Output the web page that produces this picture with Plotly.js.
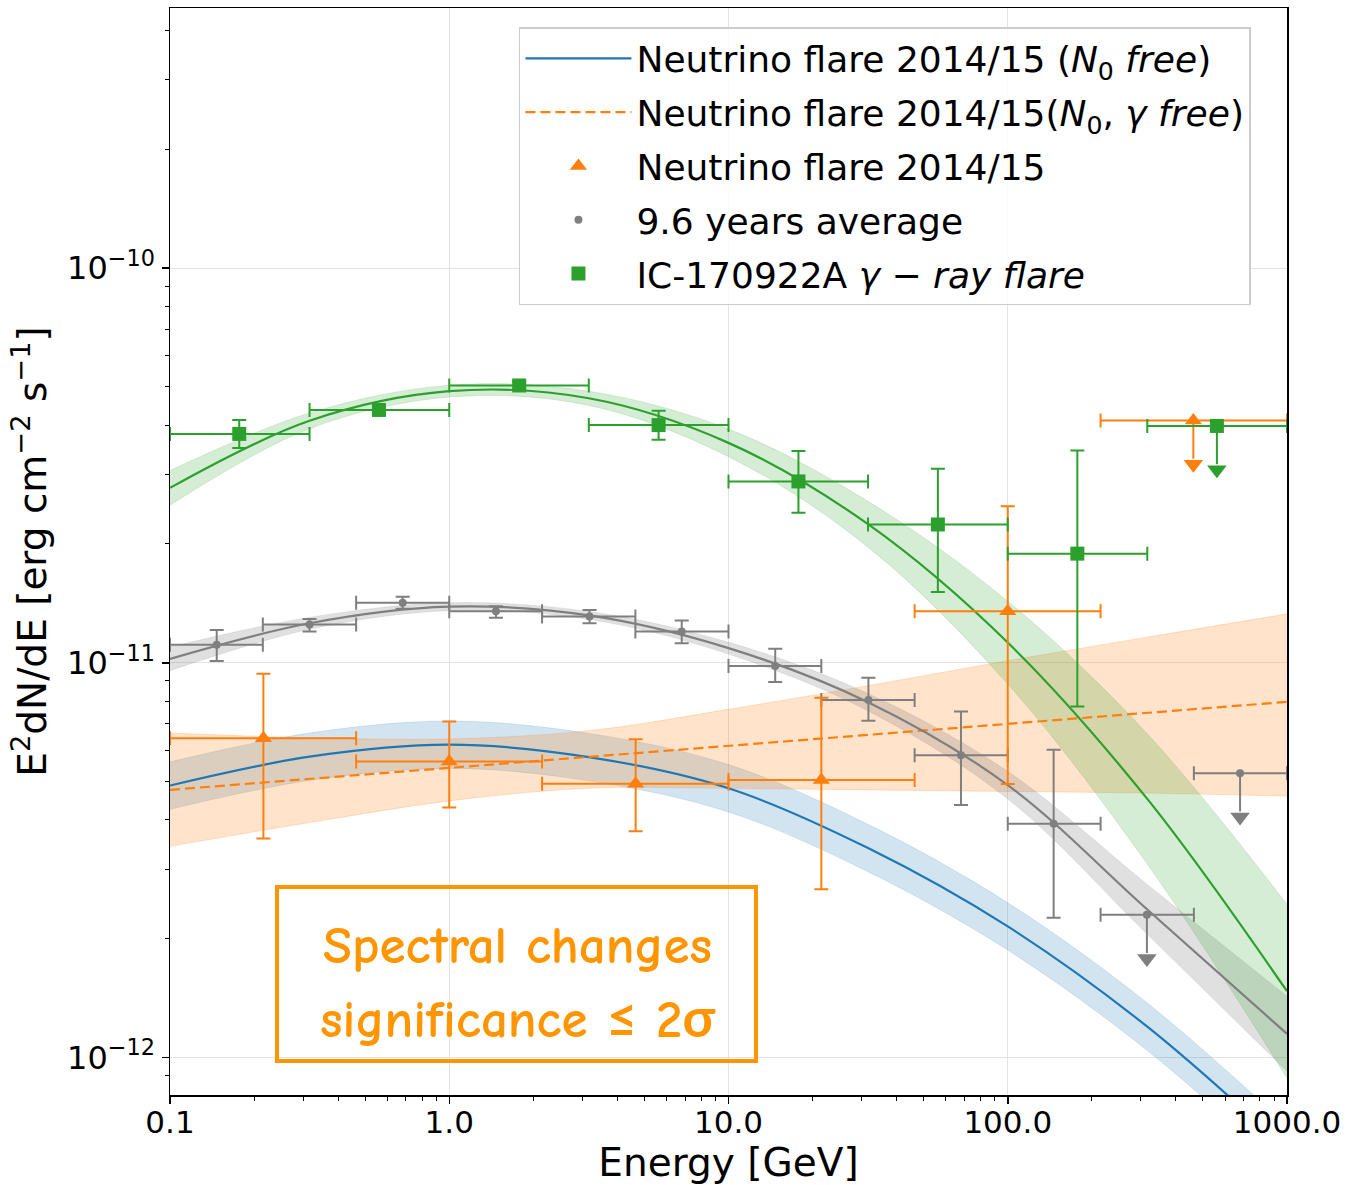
<!DOCTYPE html>
<html><head><meta charset="utf-8">
<script src="https://cdn.plot.ly/plotly-3.0.1.min.js"></script>
<style>body{margin:0;background:#fff}#chart{width:1350px;height:1185px}</style>
</head><body><div id="chart"></div>
<script>
// ---------------- DATA ----------------
// Model curves sampled at these energies (GeV)
const modelEnergy = [0.1, 0.316, 1, 3.16, 10, 31.6, 100, 316, 1000];

// IC-170922A gamma-ray flare, log-parabola fit and band
const greenModel = [2.773e-11, 4.102e-11, 4.875e-11, 4.677e-11, 3.606e-11, 2.244e-11, 1.125e-11, 4.519e-12, 1.472e-12];
const greenUpper = [3.069e-11, 4.295e-11, 5.047e-11, 4.875e-11, 3.908e-11, 2.564e-11, 1.432e-11, 6.607e-12, 2.443e-12];
const greenLower = [2.506e-11, 3.917e-11, 4.710e-11, 4.487e-11, 3.327e-11, 1.963e-11, 8.831e-12, 3.090e-12, 8.872e-13];

// 9.6 years average fit and band
const grayModel = [1.023e-11, 1.259e-11, 1.387e-11, 1.318e-11, 1.089e-11, 7.943e-12, 4.898e-12, 2.371e-12, 1.148e-12];
const grayUpper = [1.096e-11, 1.303e-11, 1.419e-11, 1.349e-11, 1.127e-11, 8.356e-12, 5.309e-12, 2.742e-12, 1.429e-12];
const grayLower = [9.550e-12, 1.216e-11, 1.355e-11, 1.288e-11, 1.052e-11, 7.551e-12, 4.519e-12, 2.051e-12, 9.226e-13];

// Neutrino flare 2014/15 (N0 free) fit and band
const blueModel = [4.887e-12, 5.781e-12, 6.200e-12, 5.768e-12, 4.809e-12, 3.393e-12, 2.148e-12, 1.197e-12, 5.861e-13];
const blueUpper = [5.610e-12, 6.637e-12, 7.118e-12, 6.622e-12, 5.521e-12, 3.896e-12, 2.466e-12, 1.374e-12, 6.730e-13];
const blueLower = [4.256e-12, 5.035e-12, 5.400e-12, 5.023e-12, 4.188e-12, 2.955e-12, 1.871e-12, 1.042e-12, 5.105e-13];

// Neutrino flare 2014/15 (N0, gamma free) power law and band
const orangeFitEnergy = [0.1, 1000];
const orangeFit = [4.764e-12, 7.962e-12];
const orangeUpper = [6.637e-12, 6.457e-12, 6.412e-12, 6.730e-12, 7.621e-12, 8.750e-12, 1.012e-11, 1.161e-11, 1.330e-11];
const orangeLower = [3.428e-12, 3.936e-12, 4.467e-12, 4.808e-12, 4.808e-12, 4.764e-12, 4.721e-12, 4.677e-12, 4.592e-12];

// Neutrino flare 2014/15 data points
const flareE    = [0.216, 1.0, 4.65, 21.5, 100];
const flareElo  = [0.1, 0.464, 2.15, 10, 46.4];
const flareEhi  = [0.464, 2.15, 10, 46.4, 215];
const flareF    = [6.44e-12, 5.62e-12, 4.94e-12, 5.05e-12, 1.35e-11];
const flareFhi  = [9.38e-12, 7.10e-12, 6.40e-12, 8.15e-12, 2.49e-11];
const flareFlo  = [3.59e-12, 4.30e-12, 3.74e-12, 2.67e-12, 4.93e-12];
const flareUlE   = [462];
const flareUlElo = [215];
const flareUlEhi = [1000];
const flareUlF   = [4.11e-11];

// 9.6 years average data points
const avgE    = [0.147, 0.316, 0.681, 1.47, 3.18, 6.8, 14.7, 31.7, 68, 146];
const avgElo  = [0.1, 0.215, 0.464, 1.0, 2.15, 4.64, 10, 21.5, 46.4, 100];
const avgEhi  = [0.215, 0.464, 1.0, 2.15, 4.64, 10, 21.5, 46.4, 100, 215];
const avgF    = [1.11e-11, 1.25e-11, 1.42e-11, 1.35e-11, 1.31e-11, 1.20e-11, 9.81e-12, 8.05e-12, 5.83e-12, 3.91e-12];
const avgFhi  = [1.21e-11, 1.29e-11, 1.47e-11, 1.39e-11, 1.36e-11, 1.28e-11, 1.085e-11, 9.16e-12, 7.53e-12, 6.02e-12];
const avgFlo  = [1.01e-11, 1.20e-11, 1.37e-11, 1.30e-11, 1.26e-11, 1.12e-11, 8.94e-12, 7.13e-12, 4.36e-12, 2.26e-12];
const avgUlE   = [315, 679];
const avgUlElo = [215, 464];
const avgUlEhi = [464, 1000];
const avgUlF   = [2.30e-12, 5.25e-12];

// IC-170922A gamma-ray flare data points
const icE    = [0.177, 0.56, 1.78, 5.62, 17.8, 56.2, 177.5];
const icElo  = [0.1, 0.316, 1.0, 3.16, 10, 31.6, 100];
const icEhi  = [0.316, 1.0, 3.16, 10, 31.6, 100, 316];
const icF    = [3.80e-11, 4.37e-11, 5.04e-11, 4.00e-11, 2.88e-11, 2.24e-11, 1.89e-11];
const icFhi  = [4.12e-11, 4.49e-11, 5.16e-11, 4.35e-11, 3.44e-11, 3.10e-11, 3.45e-11];
const icFlo  = [3.50e-11, 4.25e-11, 4.92e-11, 3.67e-11, 2.40e-11, 1.51e-11, 7.75e-12];
const icUlE   = [561];
const icUlElo = [316];
const icUlEhi = [1000];
const icUlF   = [3.98e-11];

// Labels
const legendNames = [
  'Neutrino flare 2014/15 (<i>N</i><sub>0</sub> <i>free</i>)',
  'Neutrino flare 2014/15(<i>N</i><sub>0</sub>, <i>γ free</i>)',
  'Neutrino flare 2014/15',
  '9.6 years average',
  'IC-170922A <i>γ</i> − <i>ray flare</i>'
];
const xTickVals = [0.1, 1, 10, 100, 1000];
const xTickText = ['0.1', '1.0', '10.0', '100.0', '1000.0'];
const yTickVals = [1e-12, 1e-11, 1e-10];
const yTickText = ['10<sup>−12</sup>', '10<sup>−11</sup>', '10<sup>−10</sup>'];
const boxLines = ['Spectral changes', 'significance ≤ 2σ'];

// ---------------- STYLE ----------------
const C = {blue:'#1f77b4', orange:'#ff7f0e', green:'#2ca02c', gray:'#7f7f7f', note:'#ff9500'};
const ulHeadFactor = 0.775; // arrow head position relative to value (pixel-based offset on log axis)
const ulTipFactor = 0.80;

function sub(a, b){ return a.map((v,i)=>v-b[i]); }

function band(upper, lower, fillColor, edgeColor){
  return [
    {x: modelEnergy, y: lower, mode:'lines', line:{color:edgeColor, width:1, shape:'spline'}, showlegend:false, hoverinfo:'skip'},
    {x: modelEnergy, y: upper, mode:'lines', line:{color:edgeColor, width:1, shape:'spline'}, fill:'tonexty', fillcolor:fillColor, showlegend:false, hoverinfo:'skip'}
  ];
}

function points(E, Elo, Ehi, F, Flo, Fhi, color, symbol, size, name, group){
  return {x:E, y:F, mode:'markers', name:name, legendgroup:group,
    marker:{color:color, symbol:symbol, size:size},
    error_x:{type:'data', symmetric:false, array:sub(Ehi,E), arrayminus:sub(E,Elo), color:color, thickness:2, width:7},
    error_y:{type:'data', symmetric:false, array:sub(Fhi,F), arrayminus:sub(F,Flo), color:color, thickness:2, width:7}
  };
}

function ulPoints(E, Elo, Ehi, F, color, symbol, size, group){
  const lx = [], ly = [];
  E.forEach((e,i)=>{ lx.push(e, e, null); ly.push(F[i], F[i]*ulTipFactor, null); });
  return [
    {x:lx, y:ly, mode:'lines', line:{color:color, width:2}, showlegend:false, hoverinfo:'skip', legendgroup:group},
    {x:E, y:F.map(v=>v*ulHeadFactor), mode:'markers', marker:{color:color, symbol:'triangle-down', size:17}, showlegend:false, hoverinfo:'skip', legendgroup:group},
    {x:E, y:F, mode:'markers', marker:{color:color, symbol:symbol, size:size}, showlegend:false, legendgroup:group,
      error_x:{type:'data', symmetric:false, array:sub(Ehi,E), arrayminus:sub(E,Elo), color:color, thickness:2, width:7}}
  ];
}

const traces = [];
traces.push(...band(blueUpper, blueLower, 'rgba(31,119,180,0.2)', 'rgba(31,119,180,0.15)'));
traces.push(...band(orangeUpper, orangeLower, 'rgba(255,127,14,0.22)', 'rgba(255,127,14,0.2)'));
traces.push(...band(grayUpper, grayLower, 'rgba(127,127,127,0.24)', 'rgba(127,127,127,0.15)'));
traces.push(...band(greenUpper, greenLower, 'rgba(44,160,44,0.2)', 'rgba(44,160,44,0.15)'));

traces.push({x:modelEnergy, y:blueModel, mode:'lines', name:legendNames[0], legendgroup:'g1', legendrank:1,
  line:{color:C.blue, width:2.2, shape:'spline'}});
traces.push({x:orangeFitEnergy, y:orangeFit, mode:'lines', name:legendNames[1], legendgroup:'g2', legendrank:2,
  line:{color:C.orange, width:2.2, dash:'10px,5px'}});
traces.push({x:modelEnergy, y:grayModel, mode:'lines', showlegend:false, line:{color:C.gray, width:2.2, shape:'spline'}});
traces.push({x:modelEnergy, y:greenModel, mode:'lines', showlegend:false, line:{color:C.green, width:2.2, shape:'spline'}});

const pFlare = points(flareE, flareElo, flareEhi, flareF, flareFlo, flareFhi, C.orange, 'triangle-up', 15, legendNames[2], 'g3');
pFlare.legendrank = 3;
const pAvg = points(avgE, avgElo, avgEhi, avgF, avgFlo, avgFhi, C.gray, 'circle', 8, legendNames[3], 'g4');
pAvg.legendrank = 4;
const pIc = points(icE, icElo, icEhi, icF, icFlo, icFhi, C.green, 'square', 14, legendNames[4], 'g5');
pIc.legendrank = 5;

traces.push(pAvg);
traces.push(...ulPoints(avgUlE, avgUlElo, avgUlEhi, avgUlF, C.gray, 'circle', 8, 'g4'));
traces.push(pFlare);
traces.push(...ulPoints(flareUlE, flareUlElo, flareUlEhi, flareUlF, C.orange, 'triangle-up', 15, 'g3'));
traces.push(pIc);
traces.push(...ulPoints(icUlE, icUlElo, icUlEhi, icUlF, C.green, 'square', 14, 'g5'));

const minorX = [];
[0.1, 1, 10, 100].forEach(d=>{ for(let k=2;k<=9;k++) minorX.push(k*d); });
const minorY = [9e-13];
[1e-12, 1e-11, 1e-10].forEach(d=>{ for(let k=2;k<=9;k++) if(k*d < 4.6e-10) minorY.push(k*d); });

const layout = {
  width:1350, height:1185,
  margin:{l:170, r:63, t:8, b:90},
  paper_bgcolor:'#fff', plot_bgcolor:'#fff',
  showlegend:true,
  xaxis:{type:'log', range:[-1, 3], tickmode:'array', tickvals:xTickVals, ticktext:xTickText,
    tickfont:{family:'DejaVu Sans', size:31, color:'#000'}, ticks:'outside', ticklen:7, tickwidth:1.5, tickcolor:'#000',
    ticklabelstandoff:-8,
    showline:true, linecolor:'#000', linewidth:1.5, mirror:true,
    showgrid:true, gridcolor:'#e3e3e3', gridwidth:1, zeroline:false,
    minor:{tickmode:'array', tickvals:minorX, ticks:'outside', ticklen:4, tickwidth:1, tickcolor:'#000', showgrid:false},
    title:{text:'Energy [GeV]', font:{family:'DejaVu Sans', size:39, color:'#000'}, standoff:14}},
  yaxis:{type:'log', range:[-12.095, -9.3413], tickmode:'array', tickvals:yTickVals, ticktext:yTickText,
    tickfont:{family:'DejaVu Sans', size:32, color:'#000'}, ticks:'outside', ticklen:7, tickwidth:1.5, tickcolor:'#000',
    showline:true, linecolor:'#000', linewidth:1.5, mirror:true,
    showgrid:true, gridcolor:'#e3e3e3', gridwidth:1, zeroline:false,
    minor:{tickmode:'array', tickvals:minorY, ticks:'outside', ticklen:4, tickwidth:1, tickcolor:'#000', showgrid:false},
    title:{text:'E<sup>2</sup>dN/dE [erg cm<sup>−2</sup> s<sup>−1</sup>]', font:{family:'DejaVu Sans', size:39, color:'#000'}, standoff:8}},
  legend:{x:0.3124, y:0.9825, xanchor:'left', yanchor:'top',
    bgcolor:'rgba(255,255,255,0.85)', bordercolor:'#cccccc', borderwidth:1.5,
    font:{family:'DejaVu Sans', size:36, color:'#000'}, tracegroupgap:4, itemwidth:106},
  shapes:[{type:'rect', xref:'paper', yref:'paper', x0:0.0958, x1:0.5246, y0:0.0313, y1:0.1913,
    line:{color:C.note, width:4}, fillcolor:'rgba(255,255,255,0)'}],
  annotations:[
    {xref:'paper', yref:'paper', x:0.3107, y:0.1371, text:'<b>'+boxLines[0]+'</b>', showarrow:false,
      font:{family:'Comic Neue, Comic Sans MS, Lato', size:53, weight:'bold', color:C.note}, xanchor:'center', yanchor:'middle'},
    {xref:'paper', yref:'paper', x:0.3107, y:0.069, text:'<b>'+boxLines[1]+'</b>', showarrow:false,
      font:{family:'Comic Neue, Comic Sans MS, Lato', size:53, weight:'bold', color:C.note}, xanchor:'center', yanchor:'middle'}
  ]
};

Plotly.newPlot('chart', traces, layout, {displayModeBar:false, staticPlot:true});
</script>
</body></html>
